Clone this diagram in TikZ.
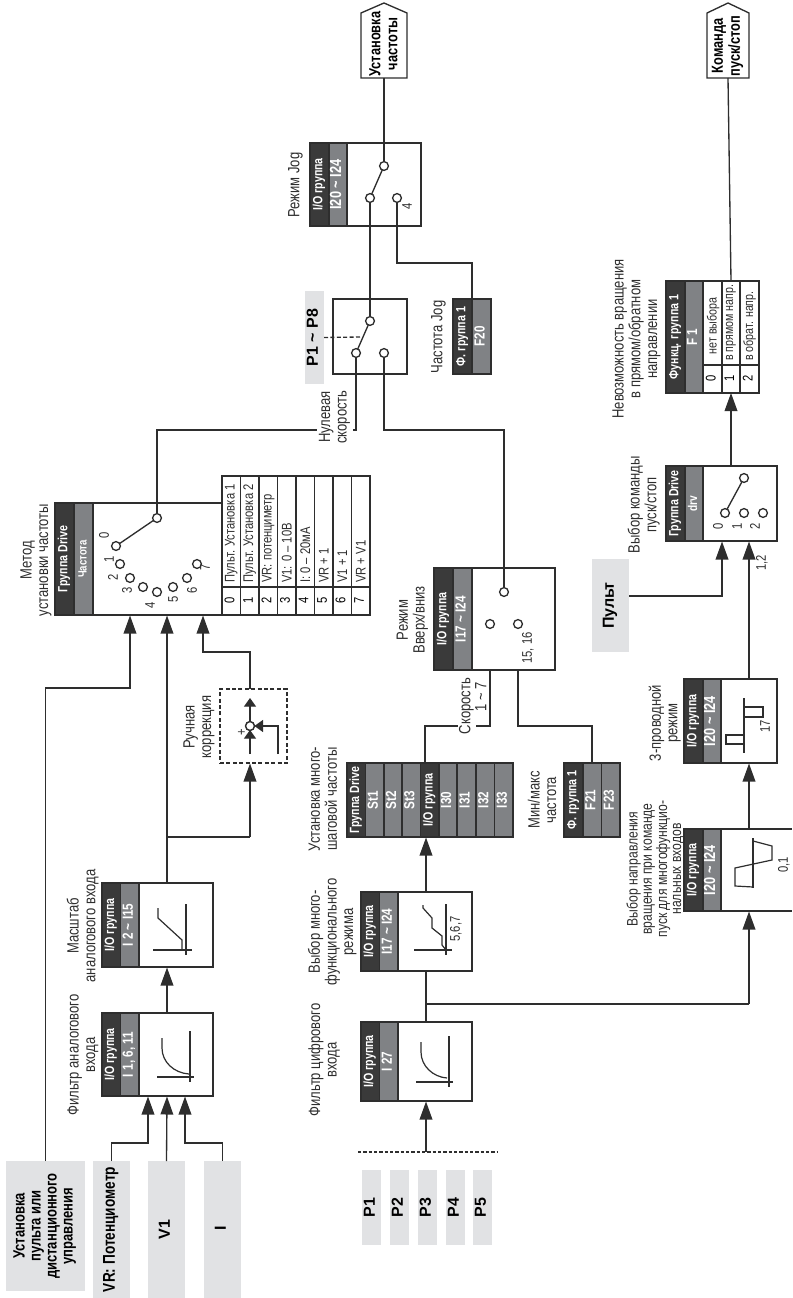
\documentclass[tikz,border=0pt]{standalone}
\usepackage{graphicx}
\usepackage{fontspec}
\setmainfont{Liberation Sans}
\newfontfamily\lf[FakeStretch=0.8]{Liberation Sans}
\newfontfamily\tf[FakeStretch=0.8]{Liberation Sans}
\usetikzlibrary{arrows.meta}
\definecolor{ink}{HTML}{2E2E2E}
\definecolor{dkc}{HTML}{3A3A3A}
\definecolor{gyc}{HTML}{808285}
\definecolor{lgc}{HTML}{E1E2E4}
\newcommand\rot[1]{\rotatebox[origin=c]{90}{\begin{tabular}{@{}c@{}}#1\end{tabular}}}
\newcommand\bx[7][]{\node[#1,minimum width={(#5-#3)*0.75pt},minimum height={(#6-#4)*0.75pt},inner sep=0pt,outer sep=0pt] (#2) at ({(#3+#5)/2},{(#4+#6)/2}) {#7};}
\newcommand\blk[9]{\bx[wbox]{#1}{#2}{#6}{#5}{#7}{}\bx[dk]{#1d}{#2}{#6}{#3}{#7}{\rot{#8}}\bx[gy]{#1g}{#3}{#6}{#4}{#7}{\rot{#9}}}
\newcommand\trow[8]{\bx[wbox,font=\tf\fontsize{10.5}{12}\selectfont]{#1n}{#2}{#5}{#3}{#6}{\rot{#7}}\bx[wbox]{#1t}{#2}{#4}{#3}{#5}{}\node[tcell,anchor=south] (#1x) at ({(#2+#3)/2},{#5-4}) {\rotatebox{90}{#8}};}
\tikzset{
  x=0.75pt,y=-0.75pt,
  conn/.style={draw=ink,line width=1pt},
  arr/.style={conn,-{Triangle[length=13.5pt,width=9.5pt]}},
  sarr/.style={conn,-{Triangle[length=6.5pt,width=9pt]}},
  wbox/.style={draw=ink,fill=white,line width=1pt},
  dk/.style={draw=ink,fill=dkc,line width=1pt,text=white,font=\tf\bfseries\fontsize{10}{11}\selectfont},
  gy/.style={draw=ink,fill=gyc,line width=1pt,text=white,font=\tf\bfseries\fontsize{11}{12}\selectfont},
  lg/.style={fill=lgc,text=black,font=\tf\bfseries\fontsize{12.2}{12}\selectfont},
  lgw/.style={fill=lgc,text=black,font=\bfseries\fontsize{12}{13}\selectfont},
  lbl/.style={text=ink,inner sep=0pt,font=\lf\fontsize{12.2}{12.4}\selectfont},
  sm/.style={text=ink,inner sep=0pt,font=\lf\fontsize{10.5}{11}\selectfont},
  tcell/.style={text=ink,inner sep=0pt,font=\tf\fontsize{10.5}{12}\selectfont},
  cir/.style={circle,draw=ink,fill=white,line width=1pt,minimum size=6.6pt,inner sep=0pt,outer sep=0pt},
  gr/.style={draw=ink,line width=0.9pt},
  pent/.style={font=\tf\bfseries\fontsize{12}{12.8}\selectfont,text=black},
}
\begin{document}
\begin{tikzpicture}
\useasboundingbox (0,0) rectangle (792,1298);
% ---- source boxes
\bx[lg]{rem}{6}{1161}{85}{1291}{\rot{Установка\\пульта или\\дистанционного\\управления}}
\bx[lg,font=\tf\bfseries\fontsize{12.8}{13}\selectfont]{vr}{93}{1161}{130}{1298}{\rot{VR: Потенциометр}}
\bx[lgw]{vone}{148}{1161}{185}{1298}{\rot{V1}}
\bx[lgw]{ii}{204}{1161}{241}{1298}{\rot{I}}
\bx[lgw]{pa}{362}{1170}{381}{1245}{\rot{P1}}
\bx[lgw]{pb}{390}{1170}{409}{1245}{\rot{P2}}
\bx[lgw]{pc}{418}{1170}{437}{1245}{\rot{P3}}
\bx[lgw]{pd}{446}{1170}{465}{1245}{\rot{P4}}
\bx[lgw]{pe}{473}{1170}{492}{1245}{\rot{P5}}
\bx[lgw]{pult}{592}{559}{629}{652}{\rot{Пульт}}
\bx[lgw]{pp}{305}{291}{324}{384}{\rot{P1 \textasciitilde\ P8}}
% ---- function blocks
\blk{fa}{102}{120.5}{139}{213}{1013}{1096}{I/O группа}{I 1, 6, 11}
\blk{ma}{102}{120.5}{139}{213}{883}{967}{I/O группа}{I 2 \textasciitilde\ I15}
\blk{me}{55}{74}{93}{222}{503}{615}{Группа Drive}{\fontsize{9}{10}\selectfont Частота}
\blk{df}{361}{379.5}{398}{472}{1022}{1101}{I/O группа}{I 27}
\blk{mu}{361}{379.5}{398}{472}{892}{971}{I/O группа}{I17 \textasciitilde\ I24}
\blk{ud}{434}{453}{472}{555}{568}{670}{I/O группа}{I17 \textasciitilde\ I24}
\blk{jg}{310}{329}{347}{421}{143}{226}{I/O группа}{\fontsize{12}{13}\selectfont I20 \textasciitilde\ I24}
\blk{dr}{666}{685}{703}{777}{466}{541}{Группа Drive}{\fontsize{9.5}{10}\selectfont drv}
\blk{tw}{684}{703}{721}{777}{679}{763}{I/O группа}{\fontsize{12}{13}\selectfont I20 \textasciitilde\ I24}
% reverse block runs off the right margin
\bx[fill=white]{rv}{684}{829}{792}{911}{}
\draw[conn] (rv.north west) -- (rv.north east) (rv.south west) -- (rv.south east);
\bx[dk]{rvd}{684}{829}{703}{911}{\rot{I/O группа}}
\bx[gy]{rvg}{703}{829}{721}{911}{\rot{\fontsize{12}{13}\selectfont I20 \textasciitilde\ I24}}
% P1~P8 switch box
\bx[wbox]{sw}{333}{299}{407}{374}{}
% multi-step stack
\bx[dk]{sa}{347}{763}{365.5}{837}{\rot{Группа Drive}}
\bx[gy]{sb}{365.5}{763}{384}{837}{\rot{St1}}
\bx[gy]{sc}{384}{763}{402}{837}{\rot{St2}}
\bx[gy]{sd}{402}{763}{420.5}{837}{\rot{St3}}
\bx[dk]{se}{420.5}{763}{439}{837}{\rot{I/O группа}}
\bx[gy]{sf}{439}{763}{457}{837}{\rot{I30}}
\bx[gy]{sg}{457}{763}{476}{837}{\rot{I31}}
\bx[gy]{sh}{476}{763}{494.5}{837}{\rot{I32}}
\bx[gy]{si}{494.5}{763}{513}{837}{\rot{I33}}
% min/max
\bx[dk]{ma1}{564}{763}{583}{837}{\rot{Ф. группа 1}}
\bx[gy]{ma2}{583}{763}{601.5}{837}{\rot{F21}}
\bx[gy]{ma3}{601.5}{763}{620}{837}{\rot{F23}}
% jog freq
\bx[dk]{ja}{453}{299}{472}{374}{\rot{Ф. группа 1}}
\bx[gy]{jb}{472}{299}{491}{374}{\rot{F20}}
% F1
\bx[dk]{fo}{666}{281}{685}{393}{\rot{Функц. группа 1}}
\bx[gy]{fg}{685}{281}{703}{393}{\rot{F 1}}
\trow{fa0}{703}{722}{281}{365}{393}{0}{}
\trow{fa1}{722}{740}{281}{365}{393}{1}{\fontsize{10}{12}\selectfont в прямом напр.}
\trow{fa2}{740}{759}{281}{365}{393}{2}{\fontsize{10}{12}\selectfont в обрат. напр.}
\node[tcell,font=\tf\fontsize{10}{12}\selectfont] (fa0y) at (713,326) {\rotatebox{90}{нет выбора}};
% method table
\trow{ra}{222}{240.5}{476}{587}{615}{0}{Пульт. Установка 1}
\trow{rb}{240.5}{259}{476}{587}{615}{1}{Пульт. Установка 2}
\trow{rc}{259}{277.5}{476}{587}{615}{2}{VR: потенциметр}
\trow{rd}{277.5}{296}{476}{587}{615}{3}{V1: 0 – 10В}
\trow{re}{296}{314.5}{476}{587}{615}{4}{I: 0 – 20мА}
\trow{rf}{314.5}{333}{476}{587}{615}{5}{VR + 1}
\trow{rg}{333}{351.5}{476}{587}{615}{6}{V1 + 1}
\trow{rh}{351.5}{370}{476}{587}{615}{7}{VR + V1}
% outputs
\bx{fout}{361}{13}{407}{78}{}
\draw[wbox] (fout.south west) -- (fout.north west) -- (384,3) -- (fout.north east) -- (fout.south east) -- cycle;
\node[pent] (foutt) at (385.5,44) {\rot{Установка\\частоты}};
\bx{cout}{707}{13}{749}{78}{}
\draw[wbox] (cout.south west) -- (cout.north west) -- (728,3) -- (cout.north east) -- (cout.south east) -- cycle;
\node[pent] (coutt) at (728,46) {\rot{Команда\\пуск/стоп}};
% manual correction
\bx[draw=ink,line width=1pt,dashed,dash pattern=on 3pt off 1.8pt]{mc}{220}{689}{287}{763}{}
% ---- circles
\node[cir] (mo) at (157,518) {};
\node[cir] (m0) at (116,546) {};
\node[cir] (m1) at (120,564) {};
\node[cir] (m2) at (130,578) {};
\node[cir] (m3) at (143,587) {};
\node[cir] (m4) at (157,592) {};
\node[cir] (m5) at (173,587) {};
\node[cir] (m6) at (187,578) {};
\node[cir] (m7) at (197,564) {};
\node[cir] (sw1) at (370,321) {};
\node[cir] (sw2) at (356,353) {};
\node[cir] (sw3) at (384,353) {};
\node[cir] (jo) at (384,166) {};
\node[cir] (j1) at (370,198) {};
\node[cir] (j2) at (397,198) {};
\node[cir] (u1) at (504,592) {};
\node[cir] (u2) at (490,624) {};
\node[cir] (u3) at (518,624) {};
\node[cir] (do) at (744,478) {};
\node[cir] (d0) at (725,513) {};
\node[cir] (d1) at (744,513) {};
\node[cir] (d2) at (763,513) {};
\node[cir] (mcc) at (250,726) {};
% ---- port coordinates
\coordinate (pm1) at (130,615.5);
\coordinate (pm2) at (167,615.5);
\coordinate (pm3) at (203,615.5);
\coordinate (jm1) at (130,688);
\coordinate (jm3) at (203,652);
\coordinate (pf1) at (148,1096.5);
\coordinate (pf2) at (167,1096.5);
\coordinate (pf3) at (185,1096.5);
\coordinate (jf1) at (148,1143);
\coordinate (jf3) at (185,1143);
\coordinate (ftop) at (167,1013);
\coordinate (mabot) at (167,967.5);
\coordinate (matop) at (167,883);
\coordinate (jmc) at (250,837);
\coordinate (jma) at (167,837);
\coordinate (mcb) at (250,763.5);
\coordinate (mct) at (250,689);
\coordinate (dash1) at (358,1152);
\coordinate (dash2) at (498,1152);
\coordinate (dfin) at (426,1101.5);
\coordinate (dfsrc) at (426,1152);
\coordinate (dftop) at (426,1022);
\coordinate (mubot) at (426,971);
\coordinate (mutop) at (426,892);
\coordinate (jb1) at (426,1004);
\coordinate (jb2) at (749,1004);
\coordinate (rvb) at (749,911.5);
\coordinate (rvt) at (749,829);
\coordinate (twb) at (749,763.5);
\coordinate (twt) at (749,679);
\coordinate (drb) at (749,541.5);
\coordinate (drp) at (722,541.5);
\coordinate (jp) at (722,596);
\coordinate (pr) at (629,596);
\coordinate (drt) at (731,466);
\coordinate (ud1) at (490,670);
\coordinate (ud2) at (518,670);
\coordinate (js1) at (490,726);
\coordinate (js2) at (425,726);
\coordinate (setop) at (425,763);
\coordinate (jn) at (592,726);
\coordinate (stbot) at (426,837.5);
\coordinate (stsrc) at (426,892);
\coordinate (jz1) at (356,430);
\coordinate (jz2) at (157,430);
\coordinate (jy) at (384,430);
\coordinate (jx) at (504,430);
\coordinate (jj) at (472,263);
% ---- connectors
\draw[arr] (rem.north) |- (jm1) -- (pm1);
\draw[arr] (vr.north) |- (jf1) -- (pf1);
\draw[arr] (vone.north) -- (pf2);
\draw[arr] (ii.north) |- (jf3) -- (pf3);
\draw[arr] (ftop) -- (mabot);
\draw[arr] (matop) -- (pm2);
\draw[conn] (jma) -- (jmc);
\draw[arr] (jmc) -- (mcb);
\draw[arr] (mct) |- (jm3) -- (pm3);
\draw[conn] (mo) -- (m0);
\draw[conn] (mo) -- (jz2) -- (jz1) -- (sw2);
\draw[conn] (sw1) -- (sw2);
\draw[conn] (sw3) -- (jy) -- (jx) -- (u1);
\draw[conn] (sw1) -- (j1);
\draw[conn] (j1) -- (jo);
\draw[conn] (jo) -- (fout.south);
\draw[conn] (j2) |- (jj) -- (ja.south east |- ja.north);
\draw[conn,dashed,dash pattern=on 3pt off 1.8pt] (pp.east) -- (362,337);
\draw[conn,dashed,dash pattern=on 2.6pt off 1.4pt] (dash1) -- (dash2);
\draw[arr] (dfsrc) -- (dfin);
\draw[conn] (dftop) -- (mubot);
\draw[arr] (mutop) -- (stbot);
\draw[conn] (jb1) -- (jb2);
\draw[arr] (jb2) -- (rvb);
\draw[arr] (rvt) -- (twb);
\draw[arr] (twt) -- (drb);
\draw[arr] (pr) -- (jp) -- (drp);
\draw[arr] (drt) -- (fa1n.south);
\draw[conn] (fa1t.north) -- (cout.south);
\draw[conn] (do) -- (d0);
\draw[conn] (ud1) -- (js1) -- (js2) -- (setop);
\draw[conn] (ud2) |- (jn) -- (ma2.north -| jn);
% ---- manual correction contents
\draw[sarr] (250,754) -- (250,730);
\draw[sarr] (mcc) -- (250,698);
\draw[sarr] (278,754) |- (mcc);
\node[cir] at (mcc) {};
\node[sm] (plus) at (242,732) {\rotatebox{90}{+}};
% ---- graphs
\draw[gr] (157,1077) -- (194,1077) (190,1031) -- (190,1082);
\draw[gr] (162,1038) -- (162,1048) .. controls (162,1062) and (174,1073) .. (189,1074);
\draw[gr] (153,950) -- (192,950) (186,904) -- (186,955);
\draw[gr] (158,908) -- (158,918) -- (182,940) -- (182,950);
\draw[gr] (416,1082) -- (453,1082) (449,1036) -- (449,1087);
\draw[gr] (421,1042) -- (421,1052) .. controls (421,1066) and (433,1077) .. (447,1078);
\draw[gr] (414,950) -- (452,950) (446,904) -- (446,955);
\draw[gr] (423,905) -- (423,908) -- (432,918) -- (432,928) -- (442,936) -- (442,945) -- (446,950);
\draw[gr] (744,698) -- (744,753);
\draw[gr] (744,744) -- (726,744) -- (726,735) -- (744,735);
\draw[gr] (744,717) -- (763,717) -- (763,707) -- (744,707);
\draw[gr] (753,838) -- (753,888);
\draw[gr] (753,887) -- (735,886) -- (735,868) -- (772,860) -- (772,846) -- (753,841);
% ---- small labels
\node[sm] (n0) at (106,536) {\rot{0}};
\node[sm] (n1) at (111,560) {\rot{1}};
\node[sm] (n2) at (115,578) {\rot{2}};
\node[sm] (n3) at (129,591) {\rot{3}};
\node[sm] (n4) at (152,606) {\rot{4}};
\node[sm] (n5) at (175,600) {\rot{5}};
\node[sm] (n6) at (194,591) {\rot{6}};
\node[sm] (n7) at (207,568) {\rot{7}};
\node[sm] (l4) at (409,207) {\rot{4}};
\node[sm] (l1516) at (529,648) {\rot{15, 16}};
\node[sm] (l567) at (457,929) {\rot{5,6,7}};
\node[sm] (l17) at (767,726) {\rot{17}};
\node[sm] (l01) at (785,865) {\rot{0,1}};
\node[sm] (l12) at (763,563) {\rot{1,2}};
\node[sm] (dl0) at (720,527) {\rot{0}};
\node[sm] (dl1) at (739,527) {\rot{1}};
\node[sm] (dl2) at (757,527) {\rot{2}};
% ---- text labels
\node[lbl] (t1) at (36.5,560) {\rot{Метод\\установки частоты}};
\node[lbl] (t2) at (83.5,926) {\rot{Масштаб\\аналогового входа}};
\node[lbl] (t3) at (83.5,1055) {\rot{Фильтр аналогового\\входа}};
\node[lbl] (t4) at (199.5,727) {\rot{Ручная\\коррекция}};
\node[lbl] (t5) at (325,1060) {\rot{Фильтр цифрового\\входа}};
\node[lbl] (t6) at (333,932) {\rot{Выбор много-\\функционального\\режима}};
\node[lbl] (t7) at (325,799) {\rot{Установка много-\\шаговой частоты}};
\node[lbl] (t8) at (413,620) {\rot{Режим\\Вверх/вниз}};
\node[lbl] (t9) at (296,185) {\rot{Режим Jog}};
\node[lbl,fill=white,inner sep=1pt] (t10) at (335,417) {\rot{Нулевая\\скорость}};
\node[lbl] (t11) at (439,337) {\rot{Частота Jog}};
\node[lbl] (t12) at (544.5,800) {\rot{Мин/макс\\частота}};
\node[lbl,fill=white,inner sep=0.5pt] (t13) at (467,706) {\rot{Скорость}};
\node[lbl] (t14) at (483,697) {\rot{1 \textasciitilde\ 7}};
\node[lbl] (t15) at (637,339) {\rot{Невозможность вращения\\в прямом/обратном\\направлении}};
\node[lbl] (t16) at (644.5,505) {\rot{Выбор команды\\пуск/стоп}};
\node[lbl] (t17) at (665.5,723) {\rot{3-проводной\\режим}};
\node[lbl,font=\lf\fontsize{11.4}{10.6}\selectfont] (t18) at (656,869) {\rot{Выбор направления\\вращения при команде\\пуск для многофункцио-\\нальных входов}};
\end{tikzpicture}
\end{document}
